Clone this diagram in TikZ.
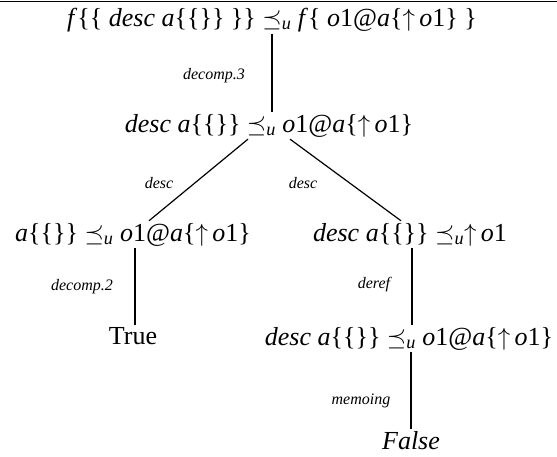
\documentclass[tikz,border=0pt]{standalone}
\usepackage{amsmath,amssymb}
\usepackage{fontspec}
\setmainfont{Liberation Serif}
\usepackage{tikz}
\usetikzlibrary{positioning}
\newcommand{\prq}{\ensuremath{\preceq_{\textit{u}}}}
\newcommand{\upa}{\ensuremath{\uparrow}}

\begin{document}
\begin{tikzpicture}[
  x=1pt,y=-1pt,
  tm/.style={anchor=base,inner sep=2pt,font=\fontsize{26}{30}\selectfont},
  lab/.style={inner sep=1pt,font=\fontsize{16}{18}\selectfont\itshape},
  ed/.style={line width=1.2pt}
]
\useasboundingbox (0,0) rectangle (557,456);
\draw[line width=1.2pt] (0,1.5) -- (557,1.5);

\node[tm] (root) at (272,26)
  {\textit{f}\{\{ \textit{desc a}\{\{\}\} \}\} \prq{} \textit{f}\{ \textit{o}1@\textit{a}\{\upa\,\textit{o}1\} \}};
\node[tm] (desc1) at (269,132)
  {\textit{desc a}\{\{\}\} \prq{} \textit{o}1@\textit{a}\{\upa\,\textit{o}1\}};
\node[tm] (left) at (133,241)
  {\textit{a}\{\{\}\} \prq{} \textit{o}1@\textit{a}\{\upa\,\textit{o}1\}};
\node[tm] (right) at (410,241)
  {\textit{desc a}\{\{\}\} \prq\upa\,\textit{o}1};
\node[tm] (tru) at (133,344) {True};
\node[tm] (right2) at (409,345)
  {\textit{desc a}\{\{\}\} \prq{} \textit{o}1@\textit{a}\{\upa\,\textit{o}1\}};
\node[tm] (fal) at (411,449) {\textit{False}};

% edges of the tree
\draw[ed] (root.south) -- ([xshift=3pt]desc1.north);
\draw[ed] ([xshift=-21pt]desc1.south) -- ([xshift=16pt]left.north);
\draw[ed] ([xshift=21pt]desc1.south) -- ([xshift=-9pt]right.north);
\draw[ed] ([xshift=2pt]left.south) -- ([xshift=2pt]tru.north);
\draw[ed] ([xshift=2pt]right.south) -- ([xshift=3pt]right2.north);
\draw[ed] ([xshift=2pt]right2.south) -- (fal.north);

% rule names
\node[lab] (ldec3) at (214,76) {decomp.3};
\node[lab] (ldescl) at (159,183) {desc};
\node[lab] (ldescr) at (303,183) {desc};
\node[lab] (ldec2) at (82,287) {decomp.2};
\node[lab] (lderef) at (374,285) {deref};
\node[lab] (lmemo) at (361,401) {memoing};
\end{tikzpicture}
\end{document}
